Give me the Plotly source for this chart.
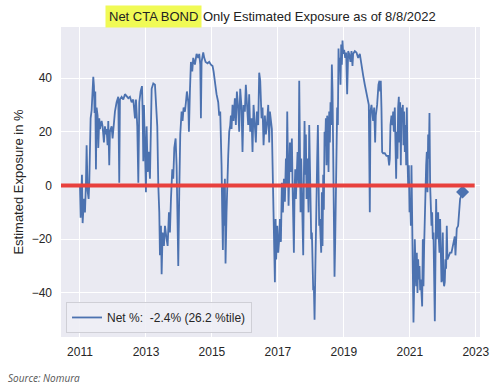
import plotly.graph_objects as go
import pandas as pd

# ---------------- data ----------------
years = [
    2011.000, 2011.020, 2011.061, 2011.081, 2011.121, 2011.152, 2011.182, 2011.202, 2011.232, 2011.263,
    2011.283, 2011.303, 2011.323, 2011.354, 2011.384, 2011.404, 2011.424, 2011.444, 2011.465, 2011.485,
    2011.505, 2011.535, 2011.556, 2011.586, 2011.606, 2011.657, 2011.687, 2011.727, 2011.758, 2011.788,
    2011.808, 2011.838, 2011.859, 2011.889, 2011.909, 2011.960, 2011.990, 2012.030, 2012.061, 2012.111,
    2012.162, 2012.192, 2012.212, 2012.263, 2012.313, 2012.364, 2012.414, 2012.465, 2012.515, 2012.566,
    2012.616, 2012.667, 2012.697, 2012.737, 2012.768, 2012.798, 2012.838, 2012.879, 2012.899, 2012.919,
    2012.939, 2012.970, 2013.000, 2013.020, 2013.051, 2013.081, 2013.121, 2013.172, 2013.222, 2013.273,
    2013.303, 2013.343, 2013.374, 2013.404, 2013.424, 2013.455, 2013.475, 2013.505, 2013.545, 2013.576,
    2013.626, 2013.657, 2013.697, 2013.727, 2013.758, 2013.798, 2013.828, 2013.859, 2013.899, 2013.929,
    2013.960, 2013.980, 2014.010, 2014.040, 2014.081, 2014.111, 2014.141, 2014.182, 2014.212, 2014.242,
    2014.283, 2014.303, 2014.333, 2014.364, 2014.404, 2014.434, 2014.485, 2014.535, 2014.586, 2014.616,
    2014.647, 2014.667, 2014.687, 2014.737, 2014.768, 2014.808, 2014.869, 2014.919, 2014.970, 2015.020,
    2015.051, 2015.091, 2015.141, 2015.192, 2015.222, 2015.253, 2015.273, 2015.293, 2015.313, 2015.333,
    2015.354, 2015.374, 2015.394, 2015.414, 2015.444, 2015.475, 2015.495, 2015.525, 2015.556, 2015.576,
    2015.596, 2015.626, 2015.657, 2015.697, 2015.727, 2015.758, 2015.798, 2015.828, 2015.859, 2015.899,
    2015.929, 2015.960, 2016.000, 2016.030, 2016.061, 2016.101, 2016.131, 2016.162, 2016.202, 2016.232,
    2016.263, 2016.303, 2016.333, 2016.364, 2016.404, 2016.434, 2016.465, 2016.505, 2016.535, 2016.566,
    2016.606, 2016.636, 2016.667, 2016.707, 2016.737, 2016.758, 2016.788, 2016.818, 2016.839, 2016.859,
    2016.879, 2016.909, 2016.929, 2016.949, 2016.980, 2017.010, 2017.040, 2017.061, 2017.091, 2017.121,
    2017.152, 2017.182, 2017.212, 2017.243, 2017.263, 2017.283, 2017.303, 2017.323, 2017.344, 2017.364,
    2017.394, 2017.424, 2017.445, 2017.465, 2017.485, 2017.505, 2017.526, 2017.546, 2017.566, 2017.596,
    2017.627, 2017.647, 2017.667, 2017.687, 2017.707, 2017.738, 2017.768, 2017.788, 2017.808, 2017.829,
    2017.849, 2017.869, 2017.889, 2017.910, 2017.930, 2017.950, 2017.970, 2017.990, 2018.011, 2018.031,
    2018.051, 2018.071, 2018.091, 2018.112, 2018.132, 2018.152, 2018.172, 2018.192, 2018.213, 2018.233,
    2018.253, 2018.273, 2018.293, 2018.314, 2018.334, 2018.354, 2018.374, 2018.394, 2018.415, 2018.435,
    2018.455, 2018.475, 2018.495, 2018.516, 2018.536, 2018.556, 2018.576, 2018.596, 2018.617, 2018.637,
    2018.657, 2018.677, 2018.697, 2018.718, 2018.738, 2018.758, 2018.778, 2018.798, 2018.819, 2018.839,
    2018.859, 2018.879, 2018.899, 2018.920, 2018.940, 2018.960, 2018.980, 2019.010, 2019.041, 2019.071,
    2019.101, 2019.132, 2019.162, 2019.202, 2019.233, 2019.263, 2019.283, 2019.334, 2019.384, 2019.435,
    2019.485, 2019.516, 2019.546, 2019.586, 2019.637, 2019.687, 2019.728, 2019.758, 2019.788, 2019.809,
    2019.839, 2019.869, 2019.889, 2019.920, 2019.950, 2019.970, 2020.010, 2020.051, 2020.081, 2020.101,
    2020.121, 2020.141, 2020.162, 2020.192, 2020.242, 2020.293, 2020.343, 2020.374, 2020.394, 2020.414,
    2020.444, 2020.475, 2020.495, 2020.515, 2020.545, 2020.566, 2020.586, 2020.606, 2020.626, 2020.646,
    2020.667, 2020.687, 2020.707, 2020.727, 2020.747, 2020.768, 2020.788, 2020.808, 2020.828, 2020.848,
    2020.869, 2020.889, 2020.909, 2020.929, 2020.949, 2020.970, 2020.990, 2021.010, 2021.030, 2021.050,
    2021.071, 2021.091, 2021.111, 2021.131, 2021.151, 2021.172, 2021.192, 2021.212, 2021.232, 2021.252,
    2021.273, 2021.293, 2021.313, 2021.333, 2021.353, 2021.374, 2021.394, 2021.414, 2021.434, 2021.455,
    2021.475, 2021.495, 2021.515, 2021.535, 2021.556, 2021.576, 2021.596, 2021.616, 2021.636, 2021.657,
    2021.677, 2021.697, 2021.717, 2021.737, 2021.758, 2021.778, 2021.798, 2021.818, 2021.838, 2021.859,
    2021.879, 2021.899, 2021.919, 2021.939, 2021.960, 2021.980, 2022.000, 2022.020, 2022.040, 2022.060,
    2022.081, 2022.101, 2022.121, 2022.141, 2022.182, 2022.222, 2022.263, 2022.303, 2022.343, 2022.364,
    2022.384, 2022.404, 2022.424, 2022.465, 2022.495, 2022.525, 2022.600,
]
net_exposure = [
    0, -12, 4, -14, -5, -10, 1, 15, -2, -5,
    1, 9, 25, 28, 35, 40.5, 37, 27, 35, 6,
    29, 26, 14, 25, 21, 24, 22, 16, 22, 19,
    21, 15, 24, 7.5, 20, 22, 17.5, 24, 27.5, 31,
    33, 1, 32, 33, 32, 34, 33, 32.5, 33, 31,
    32, 25, 32, 22, 1, 31, 35, 37, 27.5, 9,
    30, 12.5, -2.5, 22, 5, 12.5, 2.5, 36, 38, 37.5,
    29, 22, 0, -10, -26, -15, -33, -17.5, -22.5, -15,
    -20, -22.5, -10, -17.5, -5, 6, 2.5, 14, 17.5, 7.5,
    -15, -30, -2.5, 19, 27.5, 24, 29, 27.5, 31, 35,
    31, 20, 35, 46, 42.5, 47.5, 45, 49, 47.5, 49,
    45, 25, 46, 49.5, 47.5, 46, 45.5, 46, 45, 44.5,
    42.5, 37.5, 34, 31, 26, 27.5, 19, 7.5, -10, -24,
    0, -15, 2.5, -29, -10, 6, 11, 20, 22.5, 26,
    21, 30, 24, 32.5, 22.5, 35, 29, 20, 36, 29,
    12.5, 30, 27.5, 37.5, 31, 22.5, 34, 20, 25, 12.5,
    30, 22.5, 16, 27.5, 22.5, 42, 39, 25, 29, 15,
    26, 19, 22.5, 30, 16, 27.5, 24, 21, 7.5, -2.5,
    -17.5, -36, -12.5, -27.5, -15, -25, -20, -12.5, -21, 1,
    -10, 2.5, -6, 10, 0, 27.5, 10, -7.5, 4, 16,
    5, 17.5, 0, -15, -25, -2.5, 6, -5, 7.5, 12.5,
    0, 39, 16, -10, 10, -5, -26, 2.5, 24, 4,
    19, -5, 10, 0, -10, 22.5, 4, -10, -20, -17.5,
    -36, -39, -37.5, -50, -34, -12.5, -2.5, 10, 22.5, 10,
    -15, -12.5, -17.5, -25, -2.5, -22.5, 4, -9, 20, 15,
    25, 7.5, 26, 22.5, 5, 27.5, 16, 31, 22.5, 45,
    35, 17.5, -15, -34, -21, -2.5, 16, 29, 22.5, 51,
    42.5, 47.5, 37.5, 52.5, 45, 54, 49, 50.5, 47.5, 49.5,
    34, 50, 49, 46, 50, 44.5, 49, 50, 49.5, 47.5,
    49, 46, 45, 41, 37.5, 34, 31, 30, -10, 27.5,
    30, 27.5, 24, 29, 16, 26, 30, 37.5, 39, 35,
    39, 29, 12.5, 12, 12, 11, 11, 7.5, 10, 22.5,
    26, 22.5, 27.5, 20, 29, 15, 2.5, 20, 10, 29,
    33, 16, 31, 7.5, 29, 24, 30, 15, 27.5, 12.5,
    22.5, 7.5, 29, 10, 0, 7.5, -10, -5, -15, 7.5,
    -12.5, -27.5, -51, -37.5, -20, -30, -37.5, -25, -40, -27.5,
    -35, -30, -39, -35, -40, -45, -20, -37.5, -22.5, -15,
    -2.5, 7.5, 12.5, -2.5, 19, 10, 27, 0, -5, -15,
    -10, -20, -17.5, -30, -50.5, -27.5, -5, -20, -15, -10,
    -20, -25, -12.5, -27.5, -36, -34, -17.5, -35, -37.5, -36,
    -27.5, -31, -15, -27.5, -26, -25, -25, -22.5, -20, -19,
    -26, -21, -16, -15, -10, -5, -2.4,
]
series_name = "Net %:  -2.4% (26.2 %tile)"
zero_line_span = ["2010-06-01", "2022-12-20"]   # red reference line at 0
x_range = ["2010-06-05", "2023-02-17"]
y_range = [-56.4, 59]
y_ticks = [-40, -20, 0, 20, 40]
title_highlight = "Net CTA BOND"
title_rest = "Only Estimated Exposure as of 8/8/2022"
source_text = "Source: Nomura"

# ---------------- helpers ----------------
def to_date(y):
    yr = int(y)
    start = pd.Timestamp(year=yr, month=1, day=1)
    end = pd.Timestamp(year=yr + 1, month=1, day=1)
    return start + (end - start) * (y - yr)

dates = [to_date(y) for y in years]

BLUE = "#4C72B0"
RED = "#E8403D"
FONT = "Liberation Sans, Arial, sans-serif"

fig = go.Figure()
fig.add_trace(go.Scatter(
    x=dates, y=net_exposure, mode="lines", name=series_name,
    line=dict(color=BLUE, width=1.8),
))
fig.add_trace(go.Scatter(
    x=[dates[-1]], y=[net_exposure[-1]], mode="markers", showlegend=False,
    marker=dict(symbol="diamond", size=10, color=BLUE),
))
fig.add_shape(type="line", xref="x", yref="y",
              x0=zero_line_span[0], x1=zero_line_span[1], y0=0, y1=0,
              line=dict(color=RED, width=4), layer="above")

fig.update_layout(
    width=500, height=388,
    margin=dict(l=61, r=20, t=27, b=51),
    paper_bgcolor="white", plot_bgcolor="#EAEAF2",
    font=dict(family=FONT, size=12, color="#262626"),
    showlegend=True,
    legend=dict(x=0.012, y=0.013, xanchor="left", yanchor="bottom",
                bgcolor="rgba(238,238,245,0.9)", bordercolor="#cfcfd6", borderwidth=1,
                font=dict(size=12, color="#262626"), itemwidth=30),
)
fig.update_xaxes(
    type="date", range=x_range, tick0="2011-01-01", dtick="M24", tickformat="%Y",
    showgrid=True, gridcolor="white", gridwidth=1.2, zeroline=False,
    showline=False, ticks="", ticklabelstandoff=6,
    tickfont=dict(size=12, color="#262626"),
)
fig.update_yaxes(
    range=y_range, tickvals=y_ticks,
    showgrid=True, gridcolor="white", gridwidth=1.2, zeroline=False,
    showline=False, ticks="", ticklabelstandoff=8,
    tickfont=dict(size=12, color="#262626"),
    title=dict(text="Estimated Exposure in %", font=dict(size=13, color="#262626"), standoff=5),
    automargin=False,
)

fig.add_annotation(
    xref="paper", yref="paper", x=(202 - 61) / 419, y=(337 - 16) / 310, xanchor="right", yanchor="middle",
    text=title_highlight, showarrow=False, bgcolor="#F0FA55", borderpad=3,
    font=dict(family=FONT, size=13, color="#222"),
)
fig.add_annotation(
    xref="paper", yref="paper", x=(202 - 61) / 419, y=(337 - 16) / 310, xanchor="left", yanchor="middle",
    text=title_rest, showarrow=False, borderpad=0,
    font=dict(family=FONT, size=13, color="#222"),
)
fig.add_annotation(
    xref="paper", yref="paper", x=(6 - 61) / 419, y=(337 - 378) / 310,
    xanchor="left", yanchor="middle", text="<i>" + source_text + "</i>", showarrow=False,
    font=dict(family="Open Sans, sans-serif", size=10, color="#555"),
)

fig.write_html("out.html", config={"displayModeBar": False},
               post_script="document.body.style.margin='0px';")
